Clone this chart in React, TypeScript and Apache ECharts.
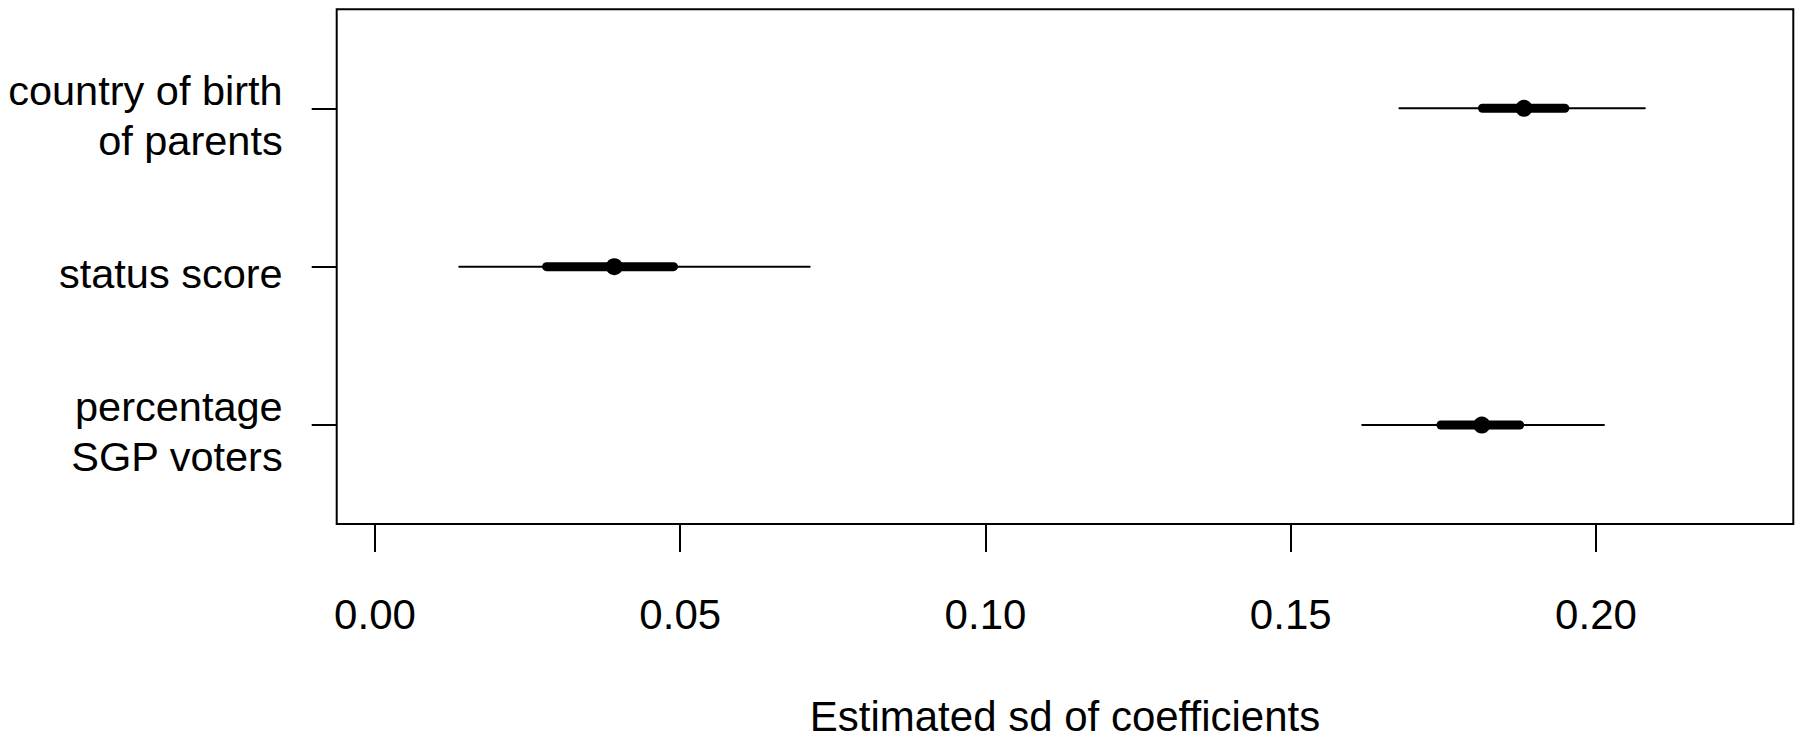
import React, { useEffect, useRef } from "react";
import * as echarts from "echarts";

// Rows from top to bottom of the plot (y position 3 = top)
const categories = ["percentage\nSGP voters", "status score", "country of birth\nof parents"];
const yPositions = [1, 2, 3];
const estimates = [0.1813, 0.0392, 0.1882];
const lower95 = [0.1617, 0.0138, 0.1678];
const upper95 = [0.2013, 0.0712, 0.208];
const lower50 = [0.1746, 0.0281, 0.1814];
const upper50 = [0.1875, 0.0489, 0.1949];
const xTicks = [0, 0.05, 0.1, 0.15, 0.2];
const xTitle = "Estimated sd of coefficients";

const FONT = "'Liberation Sans', Arial, Helvetica, sans-serif";
// labels sit slightly below their tick marks in the reference
const LABEL_DROP = 0.044;

export default function App() {
  const ref = useRef<HTMLDivElement>(null);

  useEffect(() => {
    if (!ref.current) return;
    const chart = echarts.init(ref.current, null, { renderer: "svg" });

    const data = yPositions.map((y, i) => [
      y,
      lower95[i],
      upper95[i],
      lower50[i],
      upper50[i],
      estimates[i],
    ]);

    const option: any = {
      animation: false,
      backgroundColor: "#ffffff",
      grid: {
        left: 336.7,
        right: 12.7,
        top: 9.3,
        bottom: 214.3,
        show: true,
        borderColor: "#000",
        borderWidth: 2,
        backgroundColor: "transparent",
      },
      xAxis: {
        type: "value",
        min: -0.00627,
        max: 0.23232,
        splitLine: { show: false },
        axisLine: { show: false, onZero: false },
        axisTick: {
          show: true,
          customValues: xTicks,
          length: 28,
          inside: false,
          lineStyle: { color: "#000", width: 2 },
        },
        axisLabel: {
          show: true,
          customValues: xTicks,
          formatter: (v: number) => v.toFixed(2),
          fontSize: 42,
          fontFamily: FONT,
          color: "#000",
          margin: 69,
        },
        name: xTitle,
        nameLocation: "middle",
        nameGap: 171,
        nameTextStyle: { fontSize: 42, fontFamily: FONT, color: "#000" },
      },
      yAxis: {
        type: "value",
        min: 0.375,
        max: 3.625,
        splitLine: { show: false },
        axisLine: { show: false, onZero: false },
        axisTick: {
          show: true,
          customValues: yPositions,
          length: 25,
          inside: false,
          lineStyle: { color: "#000", width: 2 },
        },
        axisLabel: {
          show: true,
          customValues: yPositions.map((y) => y - LABEL_DROP),
          formatter: (v: number) => categories[Math.round(v) - 1] ?? "",
          fontSize: 41.5,
          fontFamily: FONT,
          color: "#000",
          margin: 54,
          lineHeight: 50,
          align: "right",
        },
      },
      series: [
        {
          type: "custom",
          encode: { x: [1, 2, 3, 4, 5], y: 0 },
          data,
          renderItem: (params: any, api: any) => {
            const y = api.value(0);
            const a = api.coord([api.value(1), y]);
            const b = api.coord([api.value(2), y]);
            const c = api.coord([api.value(3), y]);
            const d = api.coord([api.value(4), y]);
            const e = api.coord([api.value(5), y]);
            return {
              type: "group",
              children: [
                {
                  type: "line",
                  shape: { x1: a[0], y1: a[1], x2: b[0], y2: b[1] },
                  style: { stroke: "#000", lineWidth: 2, lineCap: "round" },
                },
                {
                  type: "line",
                  shape: { x1: c[0], y1: c[1], x2: d[0], y2: d[1] },
                  style: { stroke: "#000", lineWidth: 9, lineCap: "round" },
                },
                {
                  type: "circle",
                  shape: { cx: e[0], cy: e[1], r: 8.5 },
                  style: { fill: "#000" },
                },
              ],
            };
          },
        },
      ],
    };

    chart.setOption(option);
    return () => chart.dispose();
  }, []);

  return (
    <div
      ref={ref}
      style={{
        position: "fixed",
        left: 0,
        top: 0,
        width: 1806,
        height: 742,
        background: "#fff",
      }}
    />
  );
}
